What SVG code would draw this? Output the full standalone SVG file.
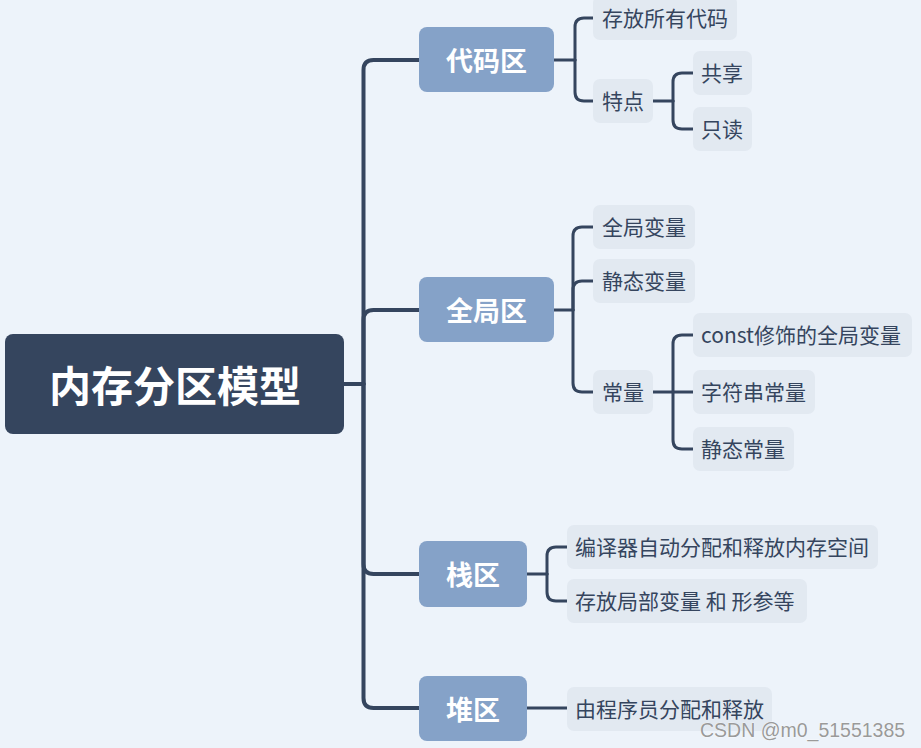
<svg xmlns="http://www.w3.org/2000/svg" width="921" height="748" viewBox="0 0 921 748">
<style>
.bg{fill:#EDF3FA}
.root{fill:#35455E}
.l1{fill:#85A2C8}
.l2{fill:#E2E9F1}
.t0{font-family:"Noto Sans CJK SC","Liberation Sans",sans-serif;font-size:42px;font-weight:bold;fill:#FFFFFF;text-anchor:middle;dominant-baseline:central}
.t1{font-family:"Noto Sans CJK SC","Liberation Sans",sans-serif;font-size:27px;font-weight:bold;fill:#FFFFFF;text-anchor:middle;dominant-baseline:central}
.t2{font-family:"Noto Sans CJK SC","Liberation Sans",sans-serif;font-size:21px;fill:#35455E;dominant-baseline:central}
.c1{fill:none;stroke:#35455E;stroke-width:4;stroke-linecap:round}
.c2{fill:none;stroke:#35455E;stroke-width:3;stroke-linecap:round}
.wm{font-family:"Liberation Sans",Arial,sans-serif;font-size:19.5px;fill:#9A9A9A;stroke:#FFFFFF;stroke-width:0.6;paint-order:stroke}
</style>
<rect class="bg" x="0" y="0" width="921" height="748"/>
<g id="connectors">
<path class="c1" d="M344,384 H363.5"/>
<path class="c1" d="M363.5,384 V70 Q363.5,60 373.5,60 H419"/>
<path class="c1" d="M363.5,384 V320 Q363.5,310 373.5,310 H419"/>
<path class="c1" d="M363.5,384 V564 Q363.5,574 373.5,574 H419"/>
<path class="c1" d="M363.5,384 V698 Q363.5,708 373.5,708 H419"/>
<path class="c2" d="M554,60 H575"/>
<path class="c2" d="M575,60 V27 Q575,18 584,18 H593"/>
<path class="c2" d="M575,60 V92 Q575,101 584,101 H593"/>
<path class="c2" d="M653,101 H673"/>
<path class="c2" d="M673,101 V82 Q673,73 682,73 H693"/>
<path class="c2" d="M673,101 V120 Q673,129 682,129 H693"/>
<path class="c2" d="M554,310 H573"/>
<path class="c2" d="M573,310 V236 Q573,227 582,227 H593"/>
<path class="c2" d="M573,310 V290 Q573,281 582,281 H593"/>
<path class="c2" d="M573,310 V383 Q573,392 582,392 H593"/>
<path class="c2" d="M653,392 H693"/>
<path class="c2" d="M673,392 V344 Q673,335 682,335 H693"/>
<path class="c2" d="M673,392 V440 Q673,449 682,449 H693"/>
<path class="c2" d="M527,574 H547"/>
<path class="c2" d="M547,574 V556 Q547,547 556,547 H567"/>
<path class="c2" d="M547,574 V592 Q547,601 556,601 H567"/>
<path class="c2" d="M527,708 H567"/>
</g>
<g id="root">
<rect class="root" x="5" y="334" width="339" height="100" rx="8"/>
<text class="t0" x="175" y="383">内存分区模型</text>
</g>
<g id="n-code">
<rect class="l1" x="419" y="27" width="135" height="65" rx="8"/>
<text class="t1" x="486.5" y="59">代码区</text>
</g>
<g id="n-global">
<rect class="l1" x="419" y="277" width="135" height="65" rx="8"/>
<text class="t1" x="486.5" y="309">全局区</text>
</g>
<g id="n-stack">
<rect class="l1" x="419" y="541" width="108" height="66" rx="8"/>
<text class="t1" x="473" y="573.5">栈区</text>
</g>
<g id="n-heap">
<rect class="l1" x="419" y="676" width="108" height="65" rx="8"/>
<text class="t1" x="473" y="708">堆区</text>
</g>
<g id="n-code-all">
<rect class="l2" x="593" y="-4" width="144" height="44" rx="7"/>
<text class="t2" x="602" y="16.5">存放所有代码</text>
</g>
<g id="n-feature">
<rect class="l2" x="593" y="79" width="60" height="44" rx="7"/>
<text class="t2" x="602" y="99.5">特点</text>
</g>
<g id="n-shared">
<rect class="l2" x="693" y="51" width="59" height="44" rx="7"/>
<text class="t2" x="701" y="71.5">共享</text>
</g>
<g id="n-readonly">
<rect class="l2" x="693" y="107" width="59" height="44" rx="7"/>
<text class="t2" x="701" y="127.5">只读</text>
</g>
<g id="n-gvar">
<rect class="l2" x="593" y="205" width="102" height="44" rx="7"/>
<text class="t2" x="602" y="225.5">全局变量</text>
</g>
<g id="n-svar">
<rect class="l2" x="593" y="259" width="102" height="44" rx="7"/>
<text class="t2" x="602" y="279.5">静态变量</text>
</g>
<g id="n-const">
<rect class="l2" x="593" y="370" width="60" height="44" rx="7"/>
<text class="t2" x="602" y="390.5">常量</text>
</g>
<g id="n-const-g">
<rect class="l2" x="693" y="313" width="219" height="44" rx="7"/>
<text class="t2" x="701" y="333.5">const修饰的全局变量</text>
</g>
<g id="n-const-str">
<rect class="l2" x="693" y="370" width="122" height="44" rx="7"/>
<text class="t2" x="701" y="390.5">字符串常量</text>
</g>
<g id="n-const-s">
<rect class="l2" x="693" y="427" width="101" height="44" rx="7"/>
<text class="t2" x="701" y="447.5">静态常量</text>
</g>
<g id="n-stack-1">
<rect class="l2" x="567" y="525" width="311" height="44" rx="7"/>
<text class="t2" x="575" y="545.5">编译器自动分配和释放内存空间</text>
</g>
<g id="n-stack-2">
<rect class="l2" x="567" y="579" width="240" height="44" rx="7"/>
<text class="t2" x="575" y="599.5">存放局部变量 和 形参等</text>
</g>
<g id="n-heap-1">
<rect class="l2" x="567" y="687" width="205" height="44" rx="7"/>
<text class="t2" x="575" y="707.5">由程序员分配和释放</text>
</g>
<text class="wm" x="700" y="737">CSDN @m0_51551385</text>
</svg>
